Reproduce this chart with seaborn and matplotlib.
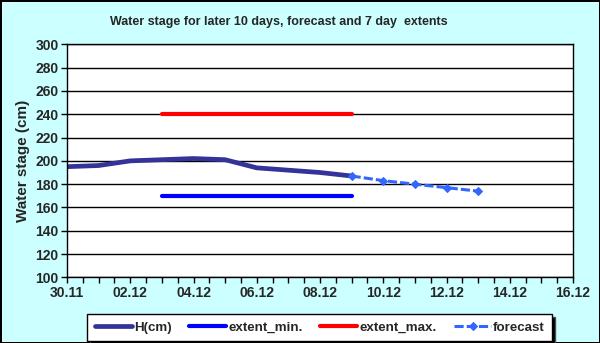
import matplotlib
matplotlib.use("Agg")
import matplotlib.pyplot as plt
import matplotlib.dates as mdates
import seaborn as sns
import pandas as pd

# --- data ---
year = "2009"
h_dates = ["30.11", "01.12", "02.12", "03.12", "04.12", "05.12", "06.12", "07.12", "08.12", "09.12"]
h_values = [195, 196, 200, 201, 202, 201, 194, 192, 190, 187]

extent_dates = ["03.12", "09.12"]
extent_min = [170, 170]
extent_max = [240, 240]

fc_dates = ["09.12", "10.12", "11.12", "12.12", "13.12"]
fc_values = [187, 183, 180, 177, 174]

x_start, x_end = "30.11", "16.12"


def to_dt(days):
    return pd.to_datetime([d + "." + year for d in days], format="%d.%m.%Y")


sns.set_style("white")
plt.rcParams['font.family'] = ['Liberation Sans', 'DejaVu Sans']

df_h = pd.DataFrame({'date': to_dt(h_dates), 'value': h_values})
df_min = pd.DataFrame({'date': to_dt(extent_dates), 'value': extent_min})
df_max = pd.DataFrame({'date': to_dt(extent_dates), 'value': extent_max})
df_fc = pd.DataFrame({'date': to_dt(fc_dates), 'value': fc_values})

fig = plt.figure(figsize=(6, 3.43), dpi=100)
fig.patch.set_facecolor('#ccffff')
fig.patch.set_edgecolor('black')
fig.patch.set_linewidth(2)
ax = fig.add_axes([0.1117, 0.1915, 0.8433, 0.679])
ax.set_facecolor('white')

sns.lineplot(data=df_h, x='date', y='value', ax=ax, color='#333399', lw=3.4,
             label='H(cm)', solid_capstyle='round', solid_joinstyle='round')
sns.lineplot(data=df_min, x='date', y='value', ax=ax, color='#0000ff', lw=3,
             label='extent_min.', solid_capstyle='round')
sns.lineplot(data=df_max, x='date', y='value', ax=ax, color='#ff0000', lw=3,
             label='extent_max.', solid_capstyle='round')
sns.lineplot(data=df_fc, x='date', y='value', ax=ax, color='#3366ff', lw=2.2,
             label='forecast', marker='D', markersize=4.5,
             markeredgecolor='#3366ff')
ax.lines[-1].set_linestyle((0, (3, 1)))

ax.set_xlim(to_dt([x_start])[0], to_dt([x_end])[0])
ax.set_ylim(100, 300)
ax.set_yticks(range(100, 301, 20))
ax.xaxis.set_major_locator(mdates.DayLocator(interval=2))
ax.xaxis.set_minor_locator(mdates.HourLocator(byhour=[0, 12]))
ax.xaxis.set_major_formatter(mdates.DateFormatter('%d.%m'))

ax.grid(axis='y', color='black', lw=1)
ax.set_axisbelow(True)
for s in ax.spines.values():
    s.set_color('black')
    s.set_linewidth(1)

ax.tick_params(axis='both', which='both', direction='out', length=4, width=1,
               color='black', labelsize=10, pad=2)
ax.tick_params(axis='x', which='both', bottom=True)
ax.tick_params(axis='y', left=True)
for lab in ax.get_xticklabels() + ax.get_yticklabels():
    lab.set_fontweight('bold')

ax.set_xlabel('')
ax.set_ylabel('Water stage (cm)', fontsize=11, fontweight='bold', labelpad=4)
fig.text(0.464, 0.935, 'Water stage for later 10 days, forecast and 7 day  extents',
         fontsize=9, fontweight='bold', ha='center', va='center')

handles, labels = ax.get_legend_handles_labels()
ax.get_legend().remove()
leg = fig.legend(handles, labels, loc='center', bbox_to_anchor=(0.533, 0.045),
                 ncol=4, numpoints=1, frameon=True, fancybox=False,
                 prop={'size': 9.6, 'weight': 'bold'},
                 shadow={'facecolor': 'black', 'alpha': 1},
                 handlelength=2.8, handletextpad=0.15, columnspacing=1.3,
                 borderpad=0.55, borderaxespad=0)
leg.get_frame().set_edgecolor('black')
leg.get_frame().set_linewidth(1)
leg.get_frame().set_facecolor('white')
leg.get_frame().set_alpha(1)

fig.savefig('out.png', dpi=100, facecolor=fig.get_facecolor(), edgecolor='black')
